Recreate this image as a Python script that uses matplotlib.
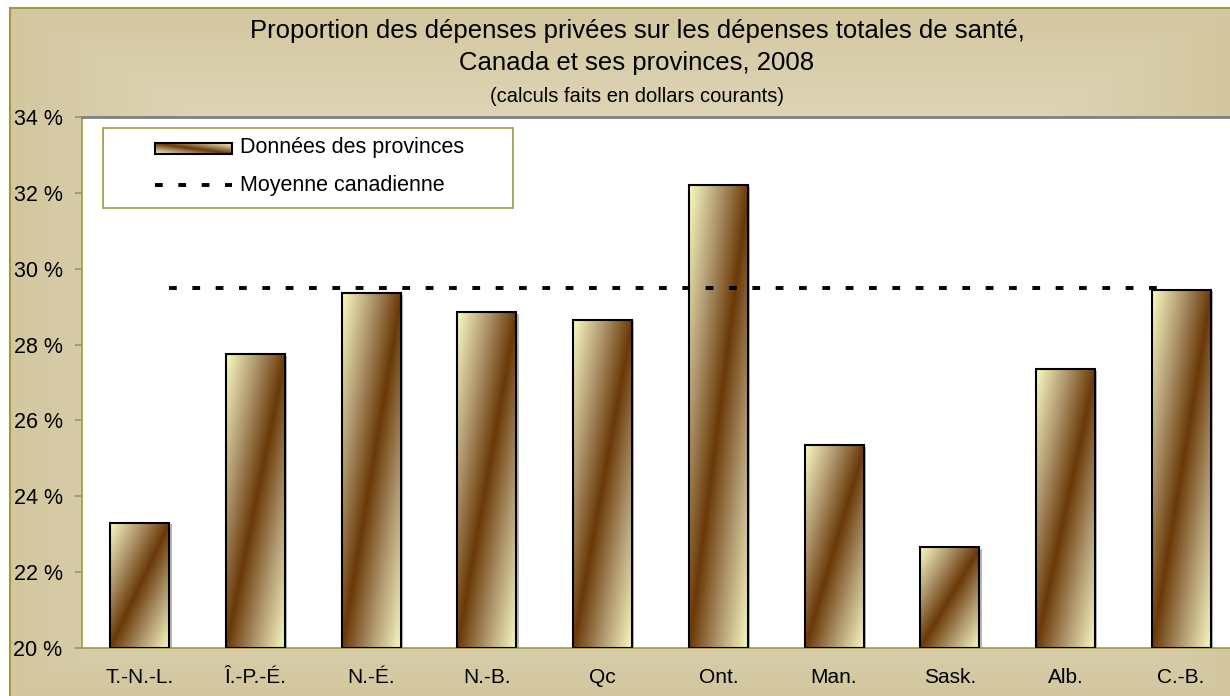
import numpy as np
import matplotlib
matplotlib.use("Agg")
from matplotlib import pyplot as plt
from matplotlib.colors import LinearSegmentedColormap
from matplotlib.patches import Rectangle

plt.rcParams['font.family'] = ['Liberation Sans', 'DejaVu Sans']

# data
provinces = ['T.-N.-L.', 'Î.-P.-É.', 'N.-É.', 'N.-B.', 'Qc', 'Ont.', 'Man.', 'Sask.', 'Alb.', 'C.-B.']
private_share = [23.3, 27.75, 29.35, 28.85, 28.65, 32.2, 25.35, 22.65, 27.35, 29.45]
canada_avg = 29.5
yticks = [20, 22, 24, 26, 28, 30, 32, 34]

title_lines = ["Proportion des dépenses privées sur les dépenses totales de santé,",
               "Canada et ses provinces, 2008"]
subtitle = "(calculs faits en dollars courants)"
legend_labels = ["Données des provinces", "Moyenne canadienne"]

OLIVE = '#9C9C3E'
W, H = 1230, 696
bar_cmap = LinearSegmentedColormap.from_list('bar', ['#6B3908', '#B29C72', '#FBFBC2'])
bg_cmap = LinearSegmentedColormap.from_list('bg', ['#F0EADA', '#D3C79F'])


def diag_gradient(n=200):
    u, v = np.meshgrid(np.linspace(0, 1, n), np.linspace(0, 1, n))
    return np.abs(u - v)


fig = plt.figure(figsize=(W / 100, H / 100), dpi=100)

# background panel with rectangular gradient from the center
bg = fig.add_axes([10 / W, 0, (W - 10) / W, (H - 8) / H])
uu, vv = np.meshgrid(np.linspace(-1, 1, 400), np.linspace(-1, 1, 300))
t = np.maximum(np.abs(uu), np.abs(vv)) ** 1.3
bg.imshow(t, cmap=bg_cmap, aspect='auto', extent=[0, 1, 0, 1], vmin=0, vmax=1)
bg.set_xlim(0, 1)
bg.set_ylim(0, 1)
bg.set_xticks([])
bg.set_yticks([])
for s in ['right', 'bottom']:
    bg.spines[s].set_visible(False)
for s in ['left', 'top']:
    bg.spines[s].set_color(OLIVE)
    bg.spines[s].set_linewidth(1.5)

# main plot area
left, right, top, bottom = 82, W, 117, 648
ax = fig.add_axes([left / W, (H - bottom) / H, (right - left) / W, (bottom - top) / H])
ax.set_facecolor('white')

x = np.arange(len(provinces))
bw = 0.51
grad = diag_gradient()
for xi, val in zip(x, private_share):
    x0, x1 = xi - bw / 2, xi + bw / 2
    shadow = Rectangle((x0 + 0.02, 20), bw, val - 20 - 0.04, facecolor='#B8B8B8',
                       edgecolor='none', zorder=1)
    ax.add_patch(shadow)
    im = ax.imshow(grad, cmap=bar_cmap, origin='lower', aspect='auto',
                   extent=[x0, x1, 20, val], vmin=0, vmax=1, zorder=2)
    rect = Rectangle((x0, 20), bw, val - 20, facecolor='none', edgecolor='black',
                     linewidth=1.5, zorder=3)
    ax.add_patch(rect)
    im.set_clip_path(rect)

ax.plot([0.25, 8.86], [canada_avg, canada_avg], color='black', linewidth=2.8,
        linestyle=(0, (2, 4)), zorder=4)

ax.set_xlim(-0.5, (right - left) / 115.7 - 0.5)
ax.set_ylim(20, 34)
ax.set_yticks(yticks)
ax.set_yticklabels([f"{v} %" for v in yticks])
ax.set_xticks(x)
ax.set_xticklabels(provinces)
ax.tick_params(axis='y', direction='out', length=5, color=OLIVE, width=1.2,
               pad=9, labelsize=15.5)
ax.tick_params(axis='x', length=0, pad=14.5, labelsize=15)
ax.spines['right'].set_visible(False)
ax.spines['top'].set_color('#808080')
ax.spines['top'].set_linewidth(2)
for s in ['left', 'bottom']:
    ax.spines[s].set_color(OLIVE)
    ax.spines[s].set_linewidth(1.2)

# overlay in pixel coordinates for titles and legend
ov = fig.add_axes([0, 0, 1, 1])
ov.set_xlim(0, W)
ov.set_ylim(H, 0)
ov.axis('off')
ov.patch.set_alpha(0)

ov.text(637, 31, title_lines[0], ha='center', va='center', fontsize=18.5)
ov.text(637, 63, title_lines[1], ha='center', va='center', fontsize=18.5)
ov.text(637, 96, subtitle, ha='center', va='center', fontsize=14.5)

ov.add_patch(Rectangle((103, 128), 410, 80, facecolor='white', edgecolor=OLIVE,
                       linewidth=1.2, zorder=2))
leg_patch = Rectangle((155, 143), 77, 11, facecolor='none', edgecolor='black',
                      linewidth=1.5, zorder=4)
lim = ov.imshow(grad, cmap=bar_cmap, origin='upper', aspect='auto',
                extent=[155, 232, 154, 143], vmin=0, vmax=1, zorder=3)
ov.add_patch(leg_patch)
lim.set_clip_path(leg_patch)
ov.plot([155, 232], [185, 185], color='black', linewidth=2.8,
        linestyle=(0, (2, 4)), zorder=3)
ov.text(240, 148, legend_labels[0], ha='left', va='center', fontsize=15.5, zorder=4)
ov.text(240, 185, legend_labels[1], ha='left', va='center', fontsize=15.5, zorder=4)
ov.set_xlim(0, W)
ov.set_ylim(H, 0)

fig.savefig('out.png', dpi=100)
